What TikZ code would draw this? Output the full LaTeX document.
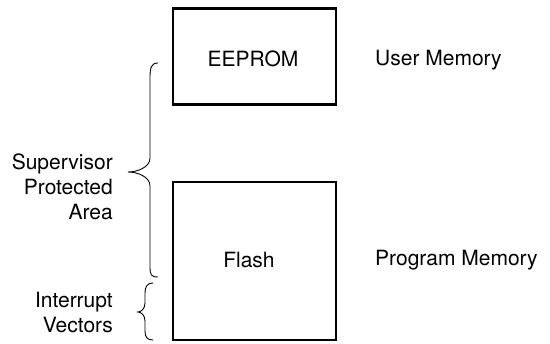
\documentclass[tikz,border=0pt]{standalone}
\usepackage{fontspec}
\setmainfont{TeX Gyre Heros}
\begin{document}
\begin{tikzpicture}[x=1pt,y=-1pt,
  lbl/.style={inner sep=0pt, font=\fontsize{21}{25}\selectfont},
  membox/.style={draw, line width=2.4pt, minimum width=163pt, inner sep=0pt},
  brc/.style={line width=0.9pt}]
\useasboundingbox (0,0) rectangle (550,344);
\node[membox, minimum height=96pt] (ee) at (254.5,56.5) {};
\node[lbl] (eet) at (253,59) {EEPROM};
\node[membox, minimum height=158pt] (fl) at (254.5,261) {};
\node[lbl] (flt) at (249,260) {Flash};
\node[lbl, anchor=west] (um) at (375,60) {User Memory};
\node[lbl, anchor=west] (pm) at (375,260) {Program Memory};
\node[lbl, anchor=east, align=right] (spa) at (113,187) {Supervisor\\Protected\\Area};
\node[lbl, anchor=east, align=right] (iv) at (113,312.5) {Interrupt\\Vectors};
% big brace
\draw[brc] (158,63) .. controls (151,63) and (150,68) .. (150,78)
  -- (150,158) .. controls (150,167) and (138,172) .. (128,172)
  .. controls (138,172) and (150,177) .. (150,186)
  -- (150,266) .. controls (150,275) and (151,277) .. (158,277);
% small brace
\draw[brc] (153,283) .. controls (147,283) and (145,287) .. (145,293)
  -- (145,303) .. controls (145,309) and (141,312) .. (138,312)
  .. controls (141,312) and (145,315) .. (145,321)
  -- (145,331) .. controls (145,337) and (147,340) .. (153,340);
\end{tikzpicture}
\end{document}
